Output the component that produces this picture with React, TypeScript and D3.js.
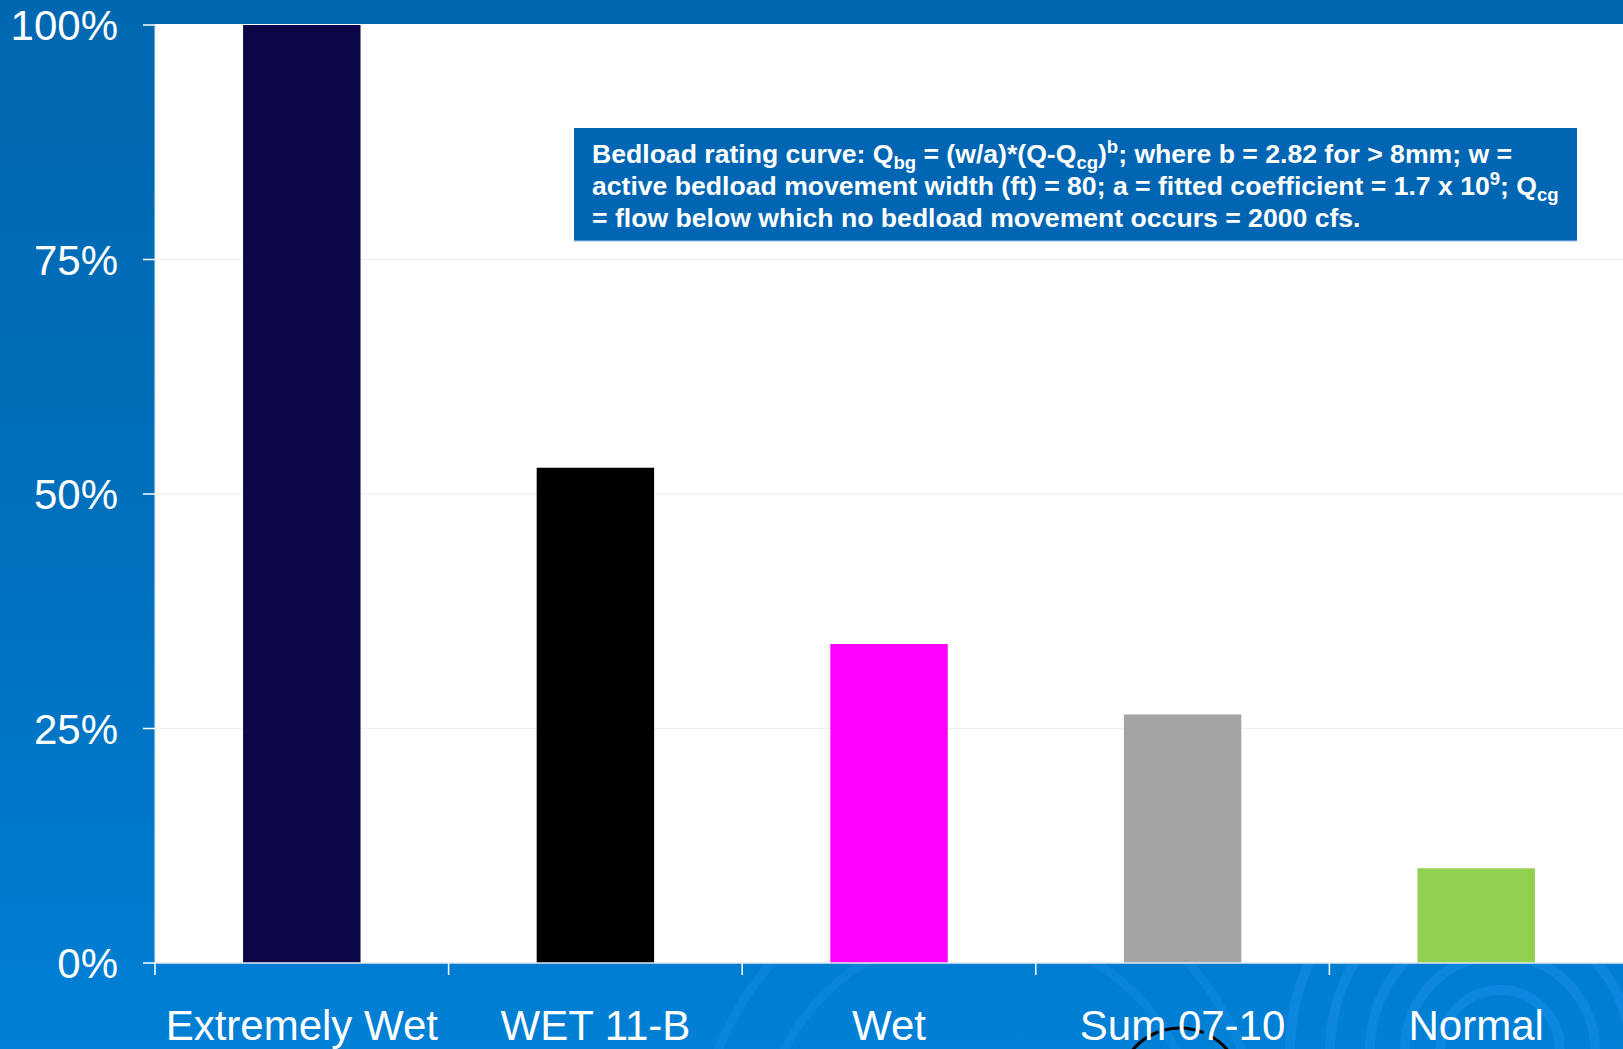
import React from "react";
import * as d3 from "d3";

const categories = ["Extremely Wet", "WET 11-B", "Wet", "Sum 07-10", "Normal"];
const values = [100, 52.8, 34.0, 26.5, 10.1];
const barColors = ["#0B0648", "#000000", "#FF00FF", "#A4A4A4", "#92D050"];
const yTicks = [0, 25, 50, 75, 100];

const W = 1623;
const H = 1049;
const plot = { left: 155, right: 1623, top: 25, bottom: 963 };

export default function App() {
  const x = d3
    .scaleBand<string>()
    .domain(categories)
    .range([plot.left, plot.right])
    .paddingInner(0.6)
    .paddingOuter(0.3);
  const y = d3.scaleLinear().domain([0, 100]).range([plot.bottom, plot.top]);
  const step = x.step();
  const boundaries = categories.map((_, i) => plot.left + i * step);

  const arcs = [60, 95, 130, 170, 210];
  const fs = 26.6;
  const sub = 18.5;
  return (
    <svg
      width={W}
      height={H}
      style={{ position: "absolute", left: 0, top: 0, display: "block" }}
      fontFamily="'Liberation Sans', Arial, sans-serif"
    >
      <defs>
        <linearGradient id="bg" x1="0" y1="0" x2="0" y2="1">
          <stop offset="0%" stopColor="#0068B0" />
          <stop offset="55%" stopColor="#0070BE" />
          <stop offset="100%" stopColor="#0080D6" />
        </linearGradient>
        <clipPath id="bottomClip">
          <rect x={0} y={plot.bottom} width={W} height={H - plot.bottom} />
        </clipPath>
      </defs>
      <rect x={0} y={0} width={W} height={H} fill="url(#bg)" />
      {/* decorative swirls */}
      <g clipPath="url(#bottomClip)" fill="none">
        {arcs.map((r, i) => (
          <circle key={i} cx={1500} cy={1050} r={r} stroke="#1A90EA" strokeWidth={10} opacity={0.45} />
        ))}
        {[220, 280].map((r, i) => (
          <circle key={"b" + i} cx={980} cy={1150} r={r} stroke="#1A90EA" strokeWidth={9} opacity={0.35} />
        ))}
        <circle cx={1180} cy={1090} r={62} stroke="#000" strokeWidth={3} strokeDasharray="40 6" />
      </g>
      {/* plot area */}
      <rect x={plot.left} y={plot.top - 1} width={plot.right - plot.left} height={plot.bottom - plot.top + 1} fill="#FFFFFF" />
      {yTicks.filter((t) => t > 0 && t < 100).map((t) => (
        <line key={t} x1={plot.left} x2={plot.right} y1={y(t)} y2={y(t)} stroke="#EFEFEF" strokeWidth={1.2} />
      ))}
      {categories.map((c, i) => (
        <rect
          key={c}
          x={x(c)}
          y={y(values[i])}
          width={x.bandwidth()}
          height={y(0) - y(values[i])}
          fill={barColors[i]}
        />
      ))}
      {/* axes */}
      <line x1={plot.left} x2={plot.right} y1={plot.bottom} y2={plot.bottom} stroke="#E4E8EE" strokeWidth={1.5} />
      <line x1={plot.left} x2={plot.left} y1={plot.top} y2={plot.bottom} stroke="#E4E8EE" strokeWidth={1} />
      {yTicks.map((t) => (
        <g key={t}>
          <line x1={plot.left - 12} x2={plot.left} y1={y(t)} y2={y(t)} stroke="#FFFFFF" strokeWidth={1.5} />
          <text x={118} y={y(t) + 15} textAnchor="end" fill="#FFFFFF" fontSize={42}>
            {t}%
          </text>
        </g>
      ))}
      {boundaries.map((b, i) => (
        <line key={i} x1={b} x2={b} y1={plot.bottom} y2={plot.bottom + 12} stroke="#FFFFFF" strokeWidth={1.5} />
      ))}
      {categories.map((c) => (
        <text
          key={c}
          x={(x(c) as number) + x.bandwidth() / 2}
          y={1040}
          textAnchor="middle"
          fill="#FFFFFF"
          fontSize={42}
        >
          {c}
        </text>
      ))}
      {/* annotation */}
      <rect x={574} y={128} width={1003} height={113} fill="#0066B3" />
      <line x1={574} x2={1577} y1={241} y2={241} stroke="#9DC3E6" strokeWidth={1} />
      <g fill="#FFFFFF" fontWeight="bold" fontSize={fs}>
        <text x={592} y={163}>
          Bedload rating curve: Q<tspan fontSize={sub} dy={6}>bg</tspan>
          <tspan dy={-6}> = (w/a)*(Q-Q</tspan>
          <tspan fontSize={sub} dy={6}>cg</tspan>
          <tspan dy={-6}>)</tspan>
          <tspan fontSize={sub} dy={-10}>b</tspan>
          <tspan dy={10}>; where b = 2.82 for &gt; 8mm; w =</tspan>
        </text>
        <text x={592} y={195}>
          active bedload movement width (ft) = 80; a = fitted coefficient = 1.7 x 10
          <tspan fontSize={sub} dy={-10}>9</tspan>
          <tspan dy={10}>; Q</tspan>
          <tspan fontSize={sub} dy={6}>cg</tspan>
        </text>
        <text x={592} y={227}>
          = flow below which no bedload movement occurs = 2000 cfs.
        </text>
      </g>
    </svg>
  );
}
